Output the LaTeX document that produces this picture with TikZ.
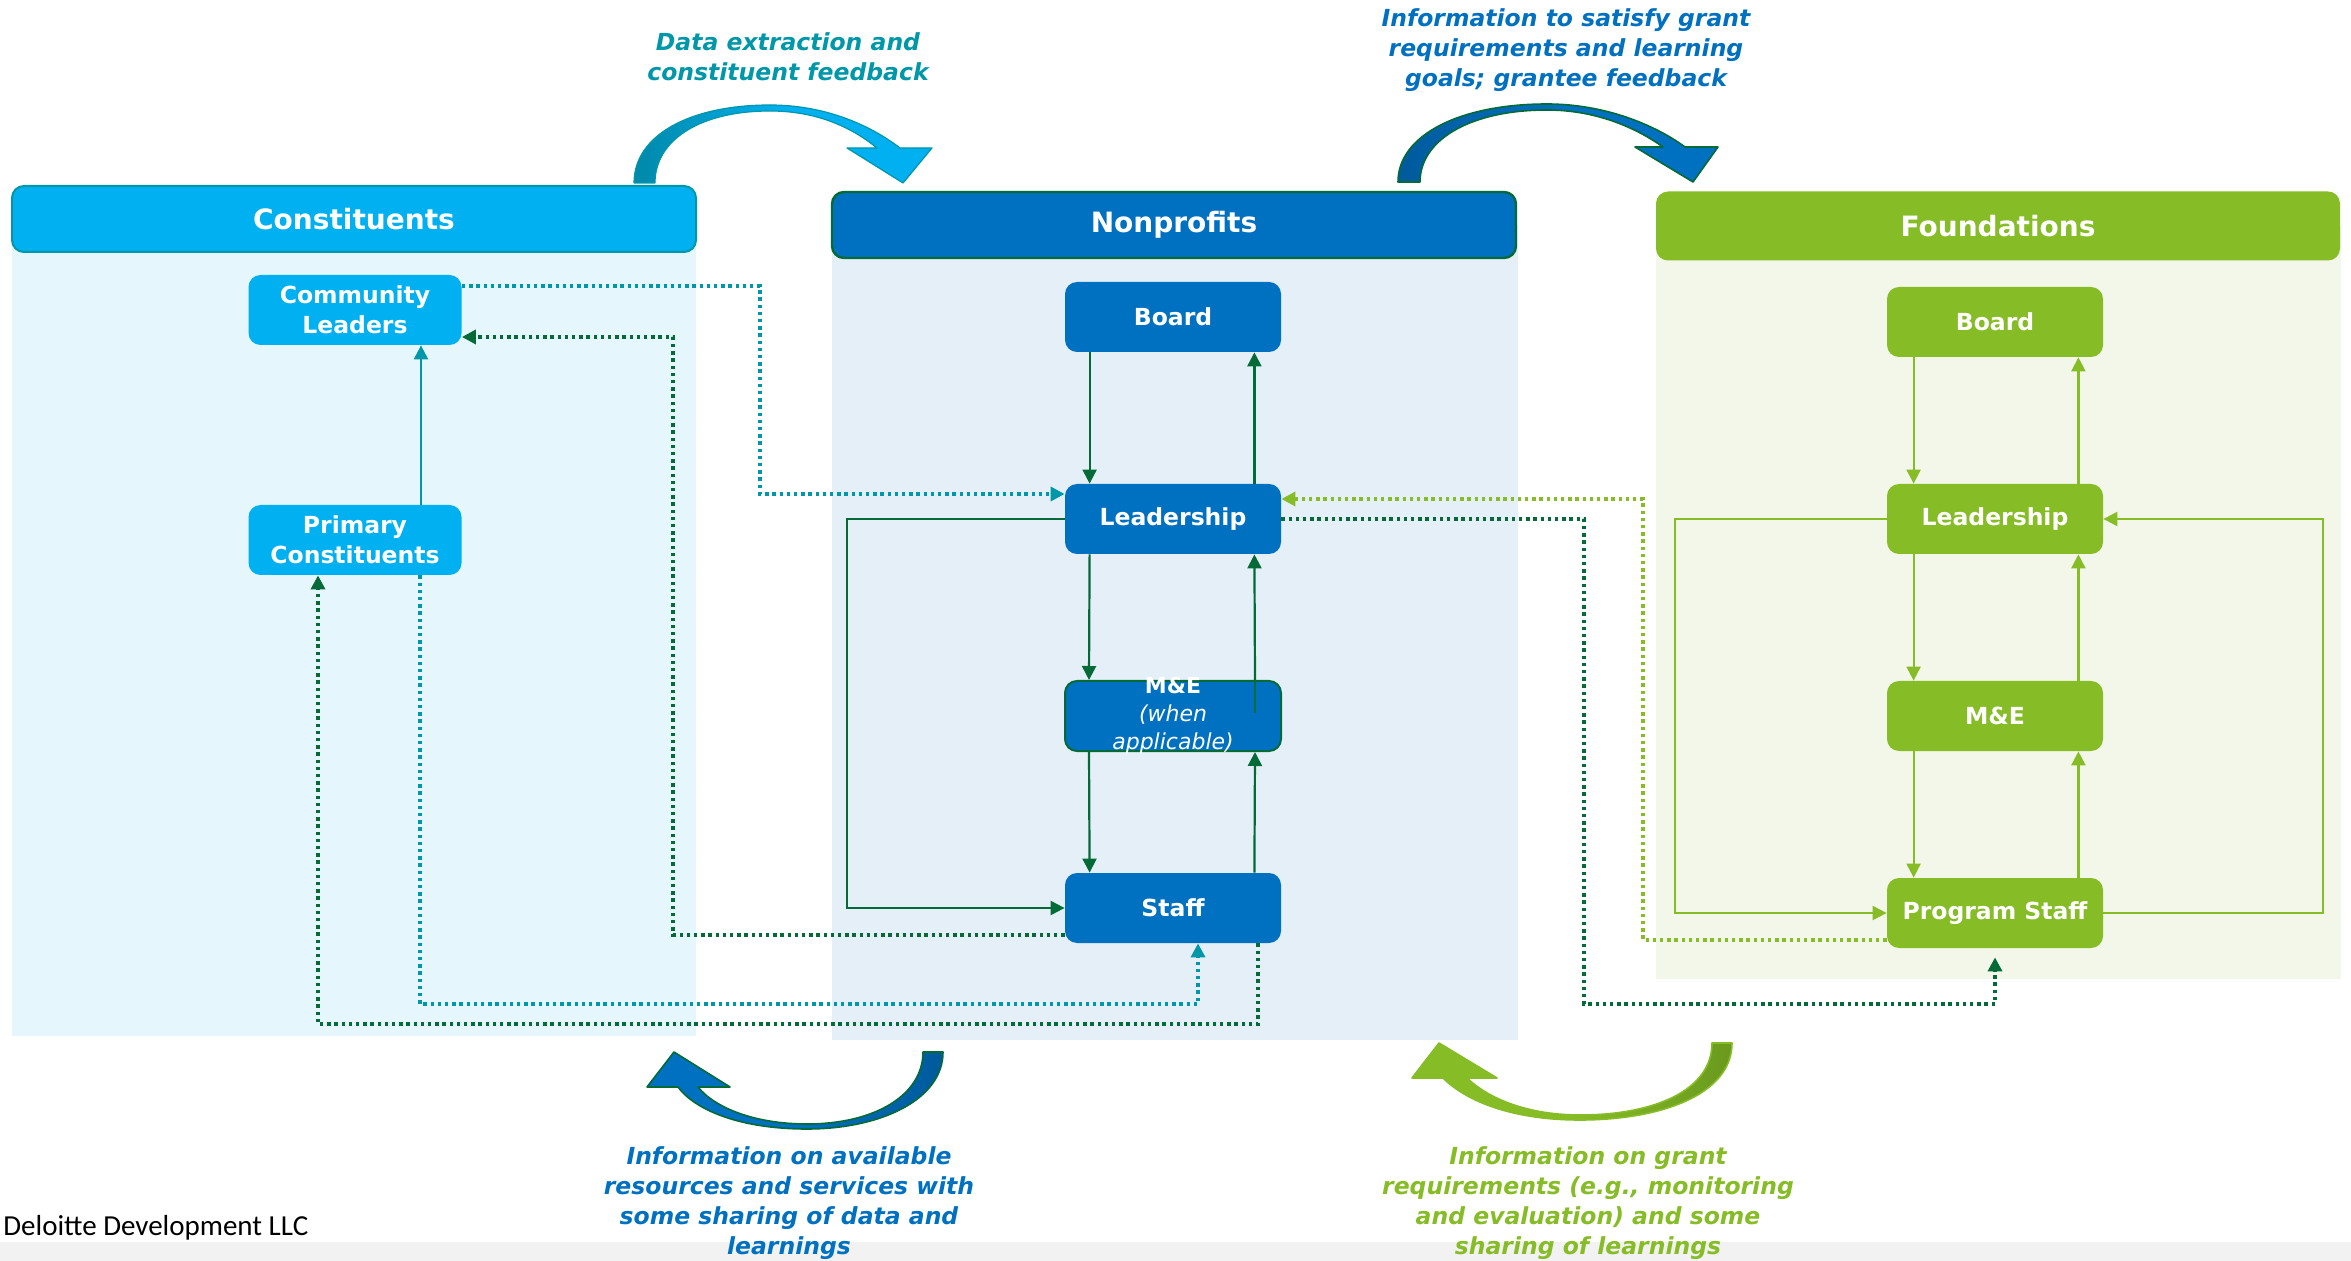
\documentclass[tikz,border=0pt]{standalone}
\usepackage{fontspec}
\setmainfont{DejaVu Sans}
\newfontfamily\footfont{Carlito}
\usepackage{tikz}
\usetikzlibrary{arrows.meta,calc}

\definecolor{conblue}{HTML}{00B0F0}
\definecolor{conteal}{HTML}{0097A9}
\definecolor{condark}{HTML}{0088A8}
\definecolor{npblue}{HTML}{0070C0}
\definecolor{npdark}{HTML}{005A9C}
\definecolor{dkgreen}{HTML}{046A38}
\definecolor{fgreen}{HTML}{86BC25}
\definecolor{fdark}{HTML}{6A991E}
\definecolor{conpanel}{HTML}{E5F6FD}
\definecolor{nppanel}{HTML}{E5EFF8}
\definecolor{fpanel}{HTML}{F2F7E9}
\definecolor{footgray}{HTML}{F2F2F2}

\begin{document}
\begin{tikzpicture}[x=0.5pt,y=-0.5pt,
  >={Triangle[length=7pt,width=7pt]},
  grouphead/.style={rounded corners=6pt,minimum width=342pt,minimum height=33pt,text=white,font=\fontsize{14}{17}\selectfont\bfseries},
  unitbox/.style={rounded corners=6pt,minimum width=108pt,minimum height=35pt,inner sep=0pt,text=white,align=center,font=\fontsize{11.75}{15}\selectfont\bfseries},
  flowline/.style={->,line width=1.1pt},
  dotline/.style={->,line width=1.7pt,dash pattern=on 1.7pt off 1.9pt},
  flowtext/.style={align=center,inner sep=0pt,font=\fontsize{11.75}{15}\selectfont\bfseries\itshape},
  bendarrow/.style={line width=0.8pt,line join=round}]
  \useasboundingbox (0,0) rectangle (2351,1261);
  \fill[white] (0,0) rectangle (2351,1261);
  \fill[footgray] (0,1242) rectangle (2351,1261);

  \fill[conpanel] (12,219) rectangle (696,1036);
  \fill[nppanel] (832,225) rectangle (1518,1040);
  \fill[fpanel] (1656,226) rectangle (2341,979);
  \node[grouphead,fill=conblue,draw=conteal,line width=1pt] (c_head) at (354,219) {Constituents};
  \node[grouphead,fill=npblue,draw=dkgreen,line width=1.2pt] (np_head) at (1174,225) {Nonprofits};
  \node[grouphead,fill=fgreen,minimum height=34.5pt] (f_head) at (1998,226) {Foundations};

  \node[unitbox,fill=conblue,minimum width=106.5pt] (c_lead) at (355,310) {Community\\Leaders};
  \node[unitbox,fill=conblue,minimum width=106.5pt] (c_prim) at (355,540) {Primary\\Constituents};

  \foreach \n/\t/\y in {board/Board/317,lead/Leadership/519,staff/Staff/908}
    \node[unitbox,fill=npblue] (np_\n) at (1173,\y) {\t};
  \node[unitbox,fill=npblue,draw=dkgreen,line width=1pt] (np_me) at (1173,716) {};
  \node[text=white,align=center,inner sep=0pt,font=\fontsize{11}{14}\selectfont] (np_me_text) at (np_me) {\textbf{M\&E}\\\textit{(when}\\\textit{applicable)}};

  \foreach \n/\t/\y in {board/Board/322,lead/Leadership/519,me/M\&E/716,staff/Program Staff/913}
    \node[unitbox,fill=fgreen] (f_\n) at (1995,\y) {\t};

  \foreach \a/\b in {board/lead,lead/me,me/staff}{
    \draw[flowline,dkgreen] ($(np_\a.south west)+(25,0)$) -- ($(np_\b.north west)+(25,0)$);
    \draw[flowline,dkgreen] ($(np_\b.north east)+(-27,0)$) -- ($(np_\a.south east)+(-27,0)$);
    \draw[flowline,fgreen] ($(f_\a.south west)+(27,0)$) -- ($(f_\b.north west)+(27,0)$);
    \draw[flowline,fgreen] ($(f_\b.north east)+(-25,0)$) -- ($(f_\a.south east)+(-25,0)$);
  }
  \draw[line width=1.1pt,dkgreen] ($(np_me.east)+(-27,-3)$) -- ($(np_me.north east)+(-27,0)$);
  \draw[flowline,dkgreen] (np_lead.west) -| (847,908) -- (np_staff.west);
  \draw[flowline,fgreen] (f_lead.west) -| (1675,913) -- (f_staff.west);
  \draw[flowline,fgreen] (f_staff.east) -| (2323,519) -- (f_lead.east);
  \draw[flowline,conteal] ($(c_prim.north)+(66,0)$) -- ($(c_lead.south)+(66,0)$);

  %%% dotted links between the groups
  \draw[dotline,conteal] ($(c_lead.east)+(0,-24)$) -| (760,494) -- ($(np_lead.west)+(0,-25)$);
  \draw[dotline,dkgreen] ($(np_staff.west)+(0,27)$) -| (673,337) -- ($(c_lead.east)+(0,27)$);
  \draw[dotline,conteal] ($(c_prim.south)+(65,0)$) |- (1198,1004) -- ($(np_staff.south)+(25,0)$);
  \draw[dotline,dkgreen] ($(np_staff.south)+(85,0)$) |- (318,1024) -- ($(c_prim.south)+(-37,0)$);
  \draw[dotline,fgreen] ($(f_staff.west)+(0,27)$) -| (1643,499) -- ($(np_lead.east)+(0,-20)$);
  \draw[dotline,dkgreen] (np_lead.east) -| (1584,1004) -| ($(f_staff.south)+(0,9)$);

  %%% bent arrows
  \draw[bendarrow,conteal,line width=0.6pt,left color=condark,right color=conblue,middle color=conblue]
    (634,183) .. controls (634,135) and (690,105) .. (770,105) .. controls (825,105) and (870,125) .. (900,148)
    -- (932,148) -- (903,183) -- (847,148) -- (877,148)
    .. controls (850,126) and (815,111) .. (770,111) .. controls (700,111) and (655,140) .. (655,183) -- cycle;
  \draw[bendarrow,dkgreen,left color=npdark,right color=npblue,middle color=npblue]
    (1398,182) .. controls (1398,135) and (1460,104) .. (1547,104) .. controls (1605,104) and (1655,125) .. (1685,147)
    -- (1718,147) -- (1693,182) -- (1635,147) -- (1663,147)
    .. controls (1635,127) and (1595,110) .. (1547,110) .. controls (1470,110) and (1420,140) .. (1420,182) -- cycle;
  \draw[bendarrow,dkgreen,left color=npblue,right color=npdark,middle color=npblue]
    (943,1052) .. controls (943,1100) and (880,1129) .. (807,1129) .. controls (740,1129) and (695,1110) .. (678,1087)
    -- (647,1087) -- (674,1052) -- (730,1087) -- (698,1087)
    .. controls (715,1108) and (755,1124) .. (807,1124) .. controls (875,1124) and (923,1095) .. (923,1052) -- cycle;
  \draw[bendarrow,fgreen,left color=fgreen,right color=fdark,middle color=fgreen]
    (1732,1043) .. controls (1732,1095) and (1660,1120) .. (1580,1120) .. controls (1510,1120) and (1465,1100) .. (1443,1078)
    -- (1412,1078) -- (1439,1043) -- (1497,1078) -- (1467,1078)
    .. controls (1490,1100) and (1530,1115) .. (1580,1115) .. controls (1655,1115) and (1712,1090) .. (1712,1043) -- cycle;

  \node[flowtext,text=conteal] (t_data) at (788,57) {Data extraction and\\constituent feedback};
  \node[flowtext,text=npblue] (t_grant) at (1566,50) {Information to satisfy grant\\requirements and learning\\goals; grantee feedback};
  \node[flowtext,text=npblue] (t_res) at (789,1203) {Information on available\\resources and services with\\some sharing of data and\\learnings};
  \node[flowtext,text=fgreen] (t_req) at (1588,1203) {Information on grant\\requirements (e.g., monitoring\\and evaluation) and some\\sharing of learnings};
  \node[anchor=west,inner sep=0pt,font=\footfont\fontsize{14.5}{17}\selectfont] (footer) at (3,1228) {Deloitte Development LLC};
\end{tikzpicture}
\end{document}
